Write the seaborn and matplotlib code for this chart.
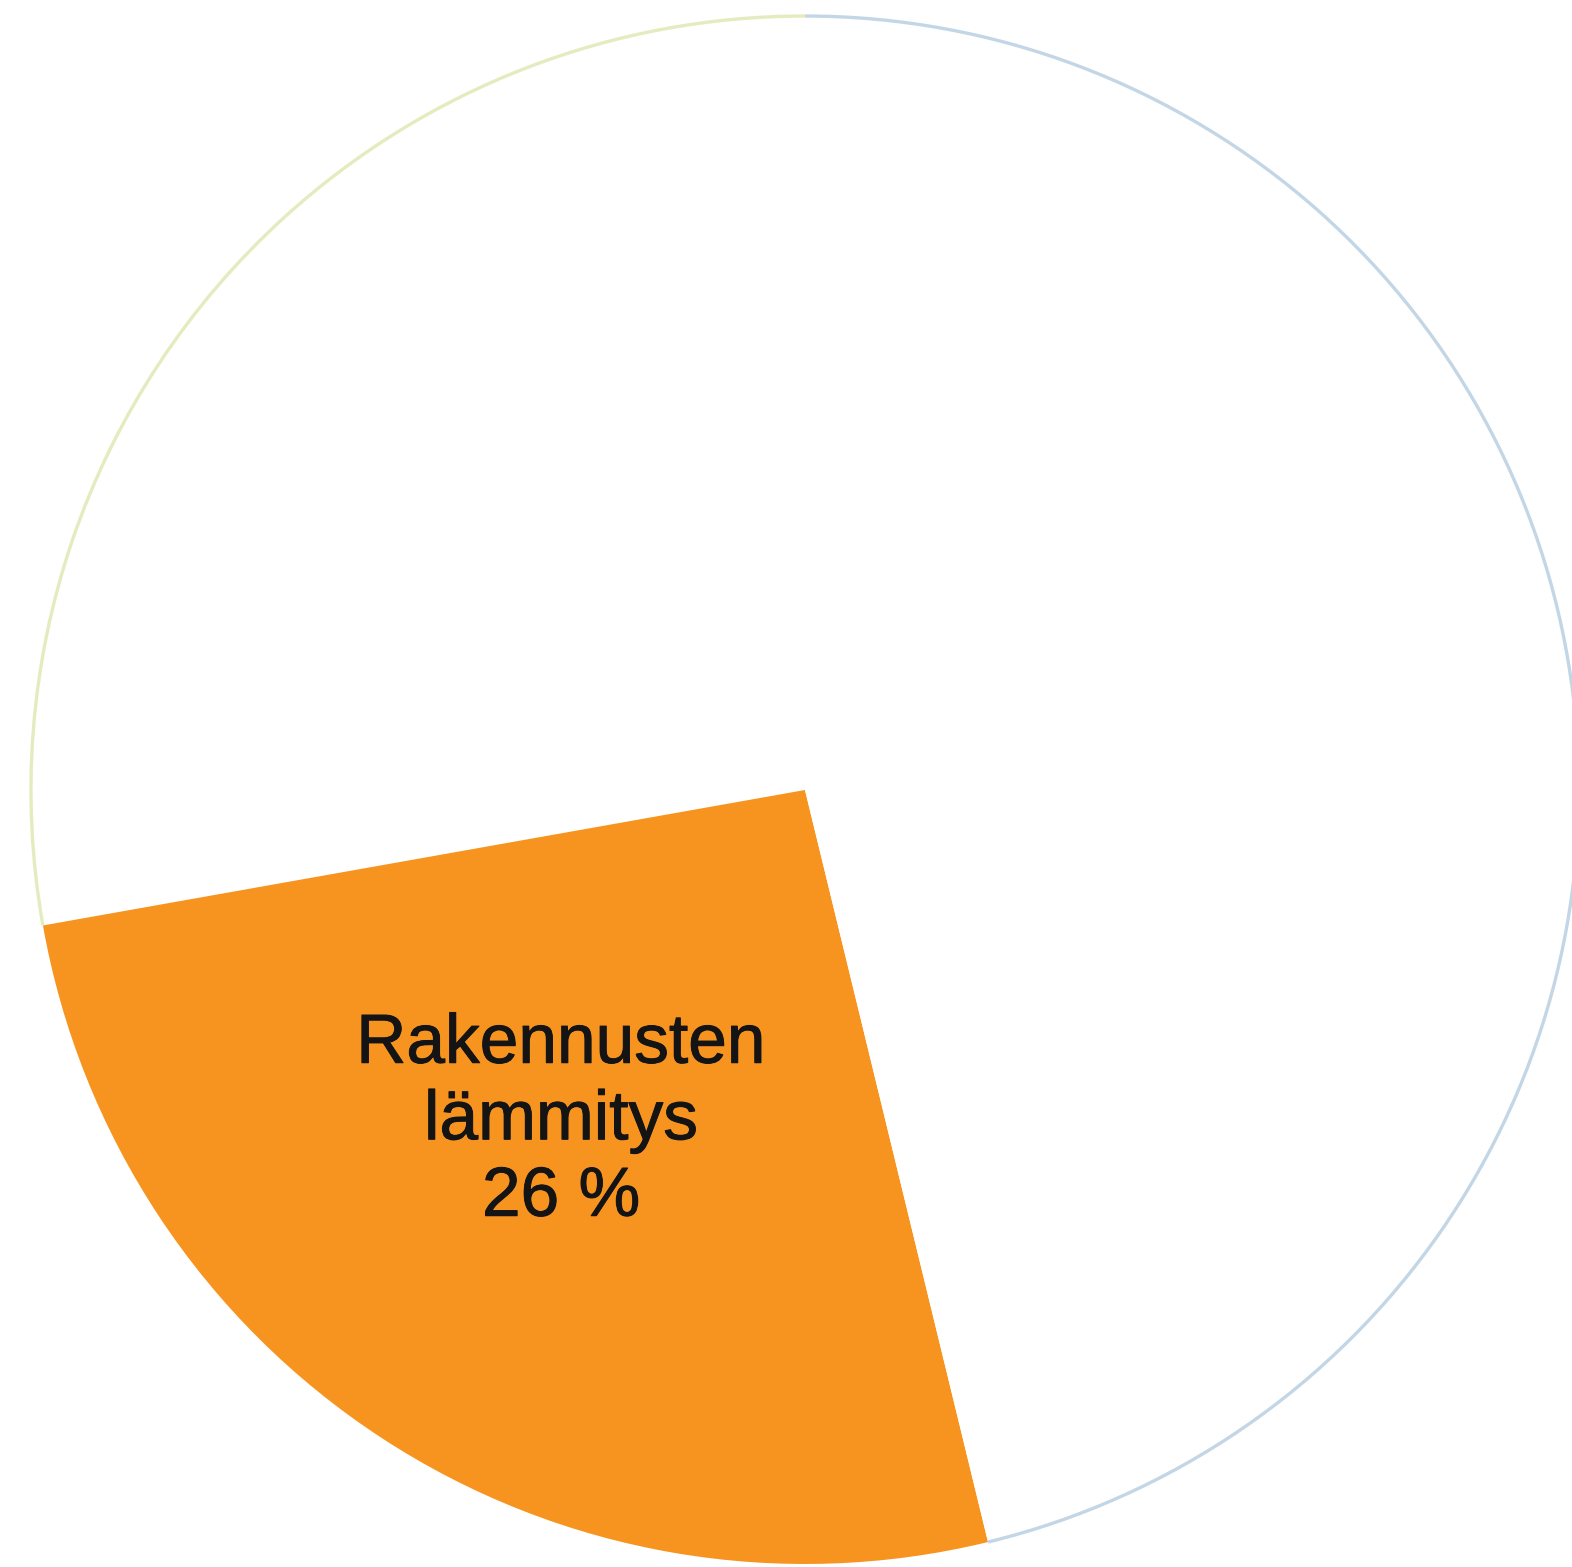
import numpy as np
import matplotlib
matplotlib.use("Agg")
import matplotlib.pyplot as plt
import matplotlib.patheffects as pe
from matplotlib.patches import Arc
import seaborn as sns

# Energy use shares (%), counter-clockwise from 12 o'clock
categories = ["Muu A", "Muu B", "Rakennusten\nlämmitys", "Muu C"]
shares = [11.7, 16.1, 26, 46.2]
fill_colors = ["#ffffff", "#ffffff", "#f7941f", "#ffffff"]
rim_colors = ["#dfe9b4", "#dfe9b4", None, "#b9cfe2"]
shown = [False, False, True, False]

sns.set_theme(style="white")
plt.rcParams["font.family"] = ["Liberation Sans", "DejaVu Sans"]

fig = plt.figure(figsize=(15.72, 15.67), dpi=100)
ax = fig.add_axes([0, 0, 1, 1])

wedges, _ = ax.pie(
    shares, colors=fill_colors, startangle=90, counterclock=True,
    radius=1.0, wedgeprops=dict(linewidth=0, edgecolor="none"),
)

# faint rim along the outer edge of the pale slices
for w, rc in zip(wedges, rim_colors):
    if rc is None:
        continue
    ax.add_patch(Arc((0, 0), 2.0, 2.0, theta1=w.theta1, theta2=w.theta2,
                     color=rc, linewidth=2.4, alpha=0.85, zorder=3))

# label for the highlighted slice
for cat, val, show in zip(categories, shares, shown):
    if show:
        ax.text(-0.315, -0.428, f"{cat}\n{val:g} %", ha="center", va="center",
                fontsize=50, color="#141414", linespacing=1.25, zorder=4,
                path_effects=[pe.withStroke(linewidth=0.7, foreground="#141414")])

ax.set_xlim(-1.040, 0.991)
ax.set_ylim(-1.0039, 1.0207)
ax.set_aspect("equal")
ax.axis("off")

fig.savefig("out.png", dpi=100, facecolor="white")
